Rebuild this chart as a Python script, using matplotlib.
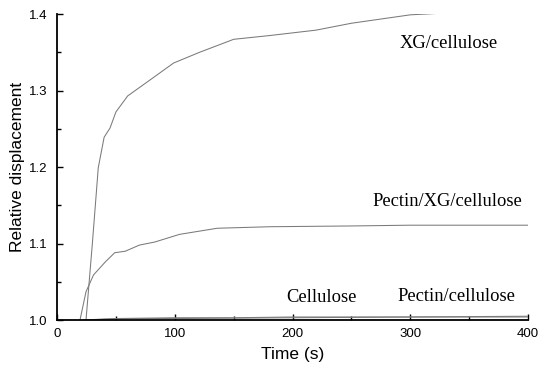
import matplotlib
matplotlib.use("Agg")
import matplotlib.pyplot as plt
from matplotlib.ticker import MultipleLocator, FormatStrFormatter

# XG/cellulose
t_xg = [24.6, 30, 34, 35, 40, 45, 50, 60, 80, 99, 121, 150, 181, 220, 250, 300, 350, 400]
v_xg = [1.0, 1.10, 1.179, 1.199, 1.239, 1.251, 1.272, 1.293, 1.315, 1.336, 1.35, 1.367, 1.372, 1.379, 1.388, 1.399, 1.403, 1.407]

# Pectin/XG/cellulose
t_pxg = [19.5, 24.6, 31, 41, 49, 58, 70, 83, 104, 136, 181, 250, 300, 400]
v_pxg = [1.0, 1.037, 1.059, 1.076, 1.088, 1.09, 1.098, 1.102, 1.112, 1.12, 1.122, 1.123, 1.124, 1.124]

# Cellulose
t_cel = [22, 35, 50, 100, 150, 200, 230, 300, 400]
v_cel = [1.0, 1.001, 1.002, 1.003, 1.003, 1.004, 1.004, 1.004, 1.005]

# Pectin/cellulose
t_pcel = [24, 40, 60, 100, 200, 300, 400]
v_pcel = [1.0, 1.001, 1.002, 1.002, 1.003, 1.004, 1.004]

labels = ["XG/cellulose", "Pectin/XG/cellulose", "Cellulose", "Pectin/cellulose"]
label_pos = [(291, 1.362), (267.5, 1.155), (194.5, 1.030), (288.7, 1.031)]

fig = plt.figure(figsize=(5.39, 3.70), dpi=100)
ax = fig.add_axes([0.1058, 0.135, 0.874, 0.827])

lc = "#7a7a7a"
for t, v in [(t_xg, v_xg), (t_pxg, v_pxg), (t_cel, v_cel), (t_pcel, v_pcel)]:
    ax.plot(t, v, color=lc, lw=0.75)

ax.set_xlim(0, 400)
ax.set_ylim(1.0, 1.4)
ax.spines["top"].set_visible(False)
ax.spines["right"].set_visible(False)
for s in ["left", "bottom"]:
    ax.spines[s].set_linewidth(1.3)

ax.xaxis.set_major_locator(MultipleLocator(100))
ax.xaxis.set_minor_locator(MultipleLocator(50))
ax.yaxis.set_major_locator(MultipleLocator(0.1))
ax.yaxis.set_minor_locator(MultipleLocator(0.05))
ax.tick_params(which="both", direction="in", labelsize=9.5)
ax.tick_params(which="major", length=4, width=1)
ax.tick_params(which="minor", length=3, width=1)
ax.tick_params(axis="y", pad=7)
ax.tick_params(axis="x", pad=6)
ax.yaxis.set_major_formatter(FormatStrFormatter("%.1f"))
for lab in ax.get_xticklabels() + ax.get_yticklabels():
    lab.set_family(["Liberation Sans", "DejaVu Sans"])

ax.set_xlabel("Time (s)", fontsize=12.5, family=["Liberation Sans", "DejaVu Sans"], labelpad=5)
ax.set_ylabel("Relative displacement", fontsize=12.5, family=["Liberation Sans", "DejaVu Sans"])
ax.yaxis.set_label_coords(-0.068, 0.5)

for txt, (x, y) in zip(labels, label_pos):
    ax.text(x, y, txt, fontsize=13.3, family=["Liberation Serif", "DejaVu Serif"], ha="left", va="center")

fig.savefig("out.png", dpi=100)
